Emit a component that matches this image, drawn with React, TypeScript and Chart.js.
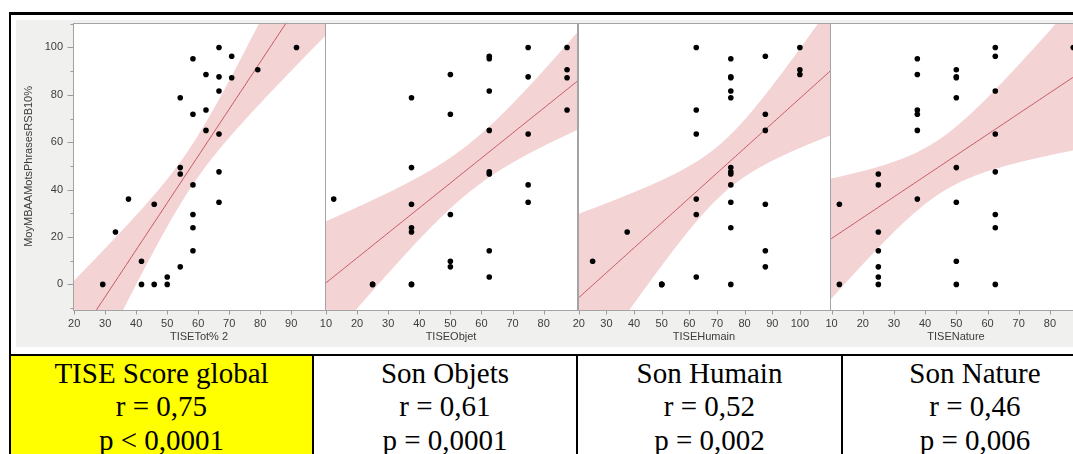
import React, { useEffect, useRef } from "react";
import { Chart, registerables } from "chart.js";

Chart.register(...registerables);

// Outcome: MoyMBAAMotsPhrasesRSB10% (y) against each TISE score (x)
const totX = [29.2, 33.3, 37.5, 41.7, 41.7, 45.8, 45.8, 50, 50, 54.2, 54.2, 54.2, 54.2, 58.3, 58.3, 58.3, 58.3, 58.3, 58.3, 62.5, 62.5, 62.5, 66.7, 66.7, 66.7, 66.7, 66.7, 66.7, 70.8, 70.8, 79.2, 91.7];
const totY = [0, 22.1, 36.0, 9.8, 0, 33.8, 0, 3.1, 0, 78.8, 49.3, 46.6, 7.4, 95.2, 71.8, 42.0, 29.5, 23.9, 14.2, 88.6, 73.6, 65.0, 100, 87.6, 81.6, 63.5, 47.5, 34.7, 96.3, 87.2, 90.6, 100];

const objetX = [12.5, 25, 25, 37.5, 37.5, 37.5, 37.5, 37.5, 37.5, 37.5, 50, 50, 50, 50, 50, 62.5, 62.5, 62.5, 62.5, 62.5, 62.5, 62.5, 62.5, 75, 75, 75, 75, 75, 87.5, 87.5, 87.5, 87.5];
const objetY = [36.0, 0, 0, 78.8, 49.3, 33.8, 23.9, 22.1, 0, 0, 88.6, 71.8, 29.5, 9.8, 7.4, 96.3, 95.2, 81.6, 65.0, 47.5, 46.6, 14.2, 3.1, 100, 87.6, 63.5, 42.0, 34.7, 100, 90.6, 87.2, 73.6];

const humainX = [25, 37.5, 50, 50, 50, 62.5, 62.5, 62.5, 62.5, 62.5, 62.5, 75, 75, 75, 75, 75, 75, 75, 75, 75, 75, 75, 75, 87.5, 87.5, 87.5, 87.5, 87.5, 87.5, 100, 100, 100];
const humainY = [9.8, 22.1, 0, 0, 0, 100, 73.6, 63.5, 36.0, 29.5, 3.1, 95.2, 87.6, 87.2, 81.6, 78.8, 49.3, 47.5, 46.6, 42.0, 34.7, 23.9, 0, 96.3, 71.8, 65.0, 33.8, 14.2, 7.4, 100, 90.6, 88.6];

const natureX = [12.5, 12.5, 25, 25, 25, 25, 25, 25, 25, 37.5, 37.5, 37.5, 37.5, 37.5, 37.5, 50, 50, 50, 50, 50, 50, 50, 50, 62.5, 62.5, 62.5, 62.5, 62.5, 62.5, 62.5, 62.5, 87.5];
const natureY = [33.8, 0, 46.6, 42.0, 22.1, 14.2, 7.4, 3.1, 0, 95.2, 88.6, 73.6, 71.8, 65.0, 36.0, 90.6, 87.6, 87.2, 78.8, 49.3, 34.7, 9.8, 0, 100, 96.3, 81.6, 63.5, 47.5, 29.5, 23.9, 0, 100];

// Axis ticks
const yTicks = [0, 20, 40, 60, 80, 100];
const yMinorTicks = [-10, 10, 30, 50, 70, 90, 110];
const totTicks = [20, 30, 40, 50, 60, 70, 80, 90];
const objetTicks = [10, 20, 30, 40, 50, 60, 70, 80];
const humainTicks = [20, 30, 40, 50, 60, 70, 80, 90, 100];
const natureTicks = [10, 20, 30, 40, 50, 60, 70, 80];

// Summary table
const tableTitles = ["TISE Score global", "Son Objets", "Son Humain", "Son Nature"];
const tableR = ["r = 0,75", "r = 0,61", "r = 0,52", "r = 0,46"];
const tableP = ["p < 0,0001", "p = 0,0001", "p = 0,002", "p = 0,006"];

const Y_TITLE = "MoyMBAAMotsPhrasesRSB10%";
const Y_MIN = -10.8;
const Y_MAX = 110.4;

const FIG_TOP = 20;
const FIG_BOTTOM = 347;
const PLOT_TOP = 22;
const PLOT_BOTTOM = 310;
const PLOT_W = 252;
const Y_AXIS_W = 57;
const SIDE_PAD = 14;

const GRAY = "#f0f0ee";
const FRAME = "#a4a4a4";
const TICK = "#9a9a9a";
const TEXT = "#3c3c3c";
const BAND = "#f4d3d5";
const FIT = "#c4565f";
const SANS = "'Liberation Sans', Arial, Helvetica, sans-serif";
const SERIF = "'Liberation Serif', 'Times New Roman', Times, serif";

// Least-squares line with a 95% confidence band for the mean
function regression(xs: number[], ys: number[]) {
  const n = xs.length;
  const mx = xs.reduce((s, v) => s + v, 0) / n;
  const my = ys.reduce((s, v) => s + v, 0) / n;
  let sxx = 0;
  let sxy = 0;
  for (let i = 0; i < n; i++) {
    sxx += (xs[i] - mx) ** 2;
    sxy += (xs[i] - mx) * (ys[i] - my);
  }
  const b = sxy / sxx;
  const a = my - b * mx;
  let sse = 0;
  for (let i = 0; i < n; i++) sse += (ys[i] - a - b * xs[i]) ** 2;
  const s = Math.sqrt(sse / (n - 2));
  const t = 2.042;
  return {
    at: (x: number) => a + b * x,
    half: (x: number) => t * s * Math.sqrt(1 / n + (x - mx) ** 2 / sxx),
  };
}

const framePlugin = {
  id: "jmpFrame",
  beforeDraw(chart: any) {
    const { ctx, chartArea: a } = chart;
    ctx.save();
    ctx.fillStyle = "#ffffff";
    ctx.fillRect(a.left, a.top, a.right - a.left, a.bottom - a.top);
    ctx.restore();
  },
  afterDraw(chart: any, _args: any, opts: any) {
    const { ctx, chartArea: a, scales } = chart;
    const l = Math.round(a.left) + 0.5;
    const r = Math.round(a.right) + 0.5;
    const t = Math.round(a.top) + 0.5;
    const b = Math.round(a.bottom) + 0.5;
    ctx.save();
    ctx.lineWidth = 1;
    ctx.strokeStyle = TICK;
    ctx.beginPath();
    for (const v of opts.xTicks as number[]) {
      const px = Math.round(scales.x.getPixelForValue(v)) + 0.5;
      ctx.moveTo(px, b);
      ctx.lineTo(px, b + 4);
    }
    if (opts.yAxis) {
      for (const v of yTicks) {
        const py = Math.round(scales.y.getPixelForValue(v)) + 0.5;
        ctx.moveTo(l - 6, py);
        ctx.lineTo(l, py);
      }
      for (const v of yMinorTicks) {
        const py = Math.round(scales.y.getPixelForValue(v)) + 0.5;
        ctx.moveTo(l - 3, py);
        ctx.lineTo(l, py);
      }
    }
    ctx.stroke();
    ctx.strokeStyle = FRAME;
    ctx.strokeRect(l, t, r - l, b - t);
    ctx.restore();
  },
};

type PanelProps = {
  xs: number[];
  ys: number[];
  xMin: number;
  xMax: number;
  xTicks: number[];
  xTitle: string;
  yAxis: boolean;
  plotLeft: number;
};

function Panel(p: PanelProps) {
  const ref = useRef<HTMLCanvasElement>(null);
  const padL = p.yAxis ? Y_AXIS_W : SIDE_PAD;
  const width = padL + PLOT_W + SIDE_PAD;
  const height = FIG_BOTTOM - FIG_TOP;

  useEffect(() => {
    if (!ref.current) return;
    const fit = regression(p.xs, p.ys);
    const steps = 160;
    const grid: number[] = [];
    for (let i = 0; i <= steps; i++) grid.push(p.xMin + ((p.xMax - p.xMin) * i) / steps);
    const font = { family: SANS, size: 11 };

    const chart = new Chart(ref.current, {
      type: "scatter",
      data: {
        datasets: [
          {
            data: p.xs.map((x, i) => ({ x, y: p.ys[i] })),
            backgroundColor: "#000000",
            borderWidth: 0,
            pointRadius: 2.8,
            pointHoverRadius: 2.8,
          },
          {
            type: "line",
            data: grid.map((x) => ({ x, y: fit.at(x) })),
            borderColor: FIT,
            borderWidth: 1,
            pointRadius: 0,
            fill: false,
          },
          {
            type: "line",
            data: grid.map((x) => ({ x, y: fit.at(x) + fit.half(x) })),
            borderColor: "rgba(0,0,0,0)",
            borderWidth: 0,
            pointRadius: 0,
            backgroundColor: BAND,
            fill: "+1",
          },
          {
            type: "line",
            data: grid.map((x) => ({ x, y: fit.at(x) - fit.half(x) })),
            borderColor: "rgba(0,0,0,0)",
            borderWidth: 0,
            pointRadius: 0,
            fill: false,
          },
        ] as any,
      },
      options: {
        animation: false,
        responsive: false,
        maintainAspectRatio: false,
        events: [],
        layout: {
          padding: { left: p.yAxis ? 0 : SIDE_PAD, right: SIDE_PAD, top: PLOT_TOP - FIG_TOP, bottom: 0 },
        },
        plugins: {
          legend: { display: false },
          tooltip: { enabled: false },
          jmpFrame: { xTicks: p.xTicks, yAxis: p.yAxis },
        } as any,
        scales: {
          x: {
            type: "linear",
            min: p.xMin,
            max: p.xMax,
            grid: { display: false, drawTicks: false },
            border: { display: false },
            afterBuildTicks: (s: any) => {
              s.ticks = p.xTicks.map((v) => ({ value: v }));
            },
            afterFit: (s: any) => {
              s.height = FIG_BOTTOM - PLOT_BOTTOM;
              s.paddingLeft = 0;
              s.paddingRight = 0;
            },
            ticks: { autoSkip: false, maxRotation: 0, minRotation: 0, padding: 7, color: TEXT, font },
            title: { display: true, text: p.xTitle, color: TEXT, font, padding: { top: 0, bottom: 3.4 } },
          },
          y: {
            type: "linear",
            display: p.yAxis,
            min: Y_MIN,
            max: Y_MAX,
            grid: { display: false, drawTicks: false },
            border: { display: false },
            afterBuildTicks: (s: any) => {
              s.ticks = yTicks.map((v) => ({ value: v }));
            },
            afterFit: (s: any) => {
              s.width = p.yAxis ? Y_AXIS_W : 0;
              s.paddingTop = 0;
              s.paddingBottom = 0;
            },
            ticks: { autoSkip: false, padding: 10, color: TEXT, font },
            title: { display: true, text: Y_TITLE, color: TEXT, font, padding: { top: 6.4, bottom: 0 } },
          },
        },
      } as any,
      plugins: [framePlugin],
    });
    return () => chart.destroy();
  }, []);

  return (
    <canvas
      ref={ref}
      width={width}
      height={height}
      style={{ position: "absolute", left: p.plotLeft - padL, top: FIG_TOP, width, height }}
    />
  );
}

const panels: PanelProps[] = [
  { xs: totX, ys: totY, xMin: 19.6, xMax: 100.9, xTicks: totTicks, xTitle: "TISETot% 2", yAxis: true, plotLeft: 73 },
  { xs: objetX, ys: objetY, xMin: 9.7, xMax: 90.7, xTicks: objetTicks, xTitle: "TISEObjet", yAxis: false, plotLeft: 325 },
  { xs: humainX, ys: humainY, xMin: 19.7, xMax: 110.9, xTicks: humainTicks, xTitle: "TISEHumain", yAxis: false, plotLeft: 578 },
  { xs: natureX, ys: natureY, xMin: 9.5, xMax: 90.3, xTicks: natureTicks, xTitle: "TISENature", yAxis: false, plotLeft: 830 },
];

// Table cells: [left, right] of each text box
const cellBoxes = [
  [11, 312],
  [314, 576],
  [578, 841],
  [843, 1107],
];
const cellLines = [312, 576, 841];

export default function App() {
  const abs = (s: React.CSSProperties): React.CSSProperties => ({ position: "absolute", ...s });
  return (
    <div
      style={{
        position: "fixed",
        left: 0,
        top: 0,
        width: 1073,
        height: 454,
        overflow: "hidden",
        background: "#ffffff",
      }}
    >
      <div style={abs({ left: 16, top: FIG_TOP, width: 1100, height: FIG_BOTTOM - FIG_TOP, background: GRAY })} />
      {panels.map((p) => (
        <Panel key={p.xTitle} {...p} />
      ))}

      <div style={abs({ left: 11, top: 356, width: 301, height: 100, background: "#ffff00" })} />

      <div style={abs({ left: 9, top: 12, width: 1100, height: 3, background: "#000" })} />
      <div style={abs({ left: 9, top: 12, width: 2, height: 450, background: "#000" })} />
      <div style={abs({ left: 9, top: 354, width: 1100, height: 2, background: "#000" })} />
      {cellLines.map((x) => (
        <div key={x} style={abs({ left: x, top: 354, width: 2, height: 110, background: "#000" })} />
      ))}

      {cellBoxes.map(([l, r], i) => (
        <div
          key={i}
          style={abs({
            left: l,
            top: 357,
            width: r - l,
            textAlign: "center",
            fontFamily: SERIF,
            fontSize: 29,
            lineHeight: "33.3px",
            color: "#000",
            whiteSpace: "nowrap",
          })}
        >
          <div>{tableTitles[i]}</div>
          <div>{tableR[i]}</div>
          <div>{tableP[i]}</div>
        </div>
      ))}
    </div>
  );
}
